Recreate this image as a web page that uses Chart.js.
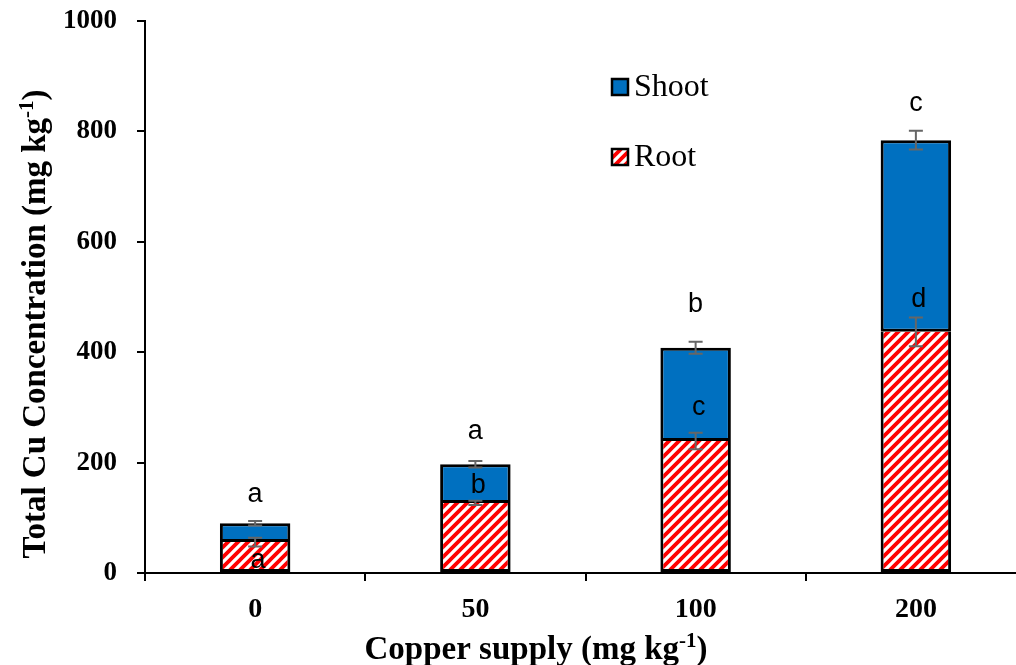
<!DOCTYPE html>
<html>
<head>
<meta charset="utf-8">
<script src="https://cdn.jsdelivr.net/npm/chart.js@4.4.1/dist/chart.umd.min.js"></script>
<style>
  html, body { margin:0; padding:0; background:#fff; overflow:hidden; }
  #wrap { width:1016px; height:665px; overflow:hidden; }
</style>
</head>
<body>
<div id="wrap"><canvas id="chart" width="1040" height="665"></canvas></div>
<script>
// values
const categories = ['0', '50', '100', '200'];
const rootValues = [56, 127, 239, 437];
const shootValues = [34, 70, 169, 347];
const rootErr = [8, 4, 15, 26];
const shootErr = [4, 6, 11, 17];
const rootLetters = ['a', 'b', 'c', 'd'];
const shootLetters = ['a', 'a', 'b', 'c'];
const rootLetterAt = [23, 158, 299, 495];
const shootLetterAt = [143, 257, 487, 850];
const yTicks = [0, 200, 400, 600, 800, 1000];

const SERIF = '"Liberation Serif", "Times New Roman", serif';
const SANS = '"Liberation Sans", Arial, sans-serif';
const BLUE = '#0070C0';

function hatch(){
    const c = document.createElement('canvas');
    c.width = 10; c.height = 10;
    const g = c.getContext('2d');
    g.fillStyle = '#fff'; g.fillRect(0,0,10,10);
    g.strokeStyle = '#ff0000'; g.lineWidth = 3.8;
    g.beginPath();
    g.moveTo(-5,5); g.lineTo(5,-5);
    g.moveTo(0,10); g.lineTo(10,0);
    g.moveTo(5,15); g.lineTo(15,5);
    g.stroke();
    return g.createPattern(c, 'repeat');
}
const rootFill = hatch();

// error bars + letters
const marks = {
    id: 'marks',
    afterDatasetsDraw(chart){
        const {ctx, scales:{x, y}} = chart;
        ctx.save();
        ctx.strokeStyle = '#666'; ctx.lineWidth = 2;
        const bar = (cx, v, e) => {
            const t = y.getPixelForValue(v + e), b = y.getPixelForValue(v - e);
            ctx.beginPath();
            ctx.moveTo(cx, t); ctx.lineTo(cx, b);
            ctx.moveTo(cx-7, t); ctx.lineTo(cx+7, t);
            ctx.moveTo(cx-7, b); ctx.lineTo(cx+7, b);
            ctx.stroke();
        };
        categories.forEach((c, i) => {
            const cx = x.getPixelForValue(i);
            bar(cx, rootValues[i], rootErr[i]);
            bar(cx, rootValues[i] + shootValues[i], shootErr[i]);
        });
        ctx.fillStyle = '#000';
        ctx.font = '27px ' + SANS;
        ctx.textAlign = 'center'; ctx.textBaseline = 'middle';
        categories.forEach((c, i) => {
            const cx = x.getPixelForValue(i);
            ctx.fillText(rootLetters[i], cx + 3, y.getPixelForValue(rootLetterAt[i]));
            ctx.fillText(shootLetters[i], cx, y.getPixelForValue(shootLetterAt[i]));
        });
        ctx.restore();
    }
};

// legend + axis titles with superscripts
const extras = {
    id: 'extras',
    afterDraw(chart){
        const ctx = chart.ctx;
        ctx.save();
        // legend
        const items = [{label:'Shoot', fill:BLUE, y:87}, {label:'Root', fill:rootFill, y:157}];
        items.forEach(it => {
            ctx.fillStyle = it.fill;
            ctx.fillRect(612, it.y - 8, 16, 16);
            ctx.strokeStyle = '#000'; ctx.lineWidth = 2.5;
            ctx.strokeRect(612, it.y - 8, 16, 16);
            ctx.fillStyle = '#000';
            ctx.font = '32px ' + SERIF;
            ctx.textAlign = 'left'; ctx.textBaseline = 'middle';
            ctx.fillText(it.label, 634, it.y + 1);
        });
        // title with superscript, centred at (cx, cy)
        const title = (main, sup, tail, cx, cy, rot) => {
            ctx.save();
            ctx.translate(cx, cy);
            if (rot) ctx.rotate(-Math.PI/2);
            const f = 'bold 33px ' + SERIF, fs = 'bold 21px ' + SERIF;
            ctx.font = f; const w1 = ctx.measureText(main).width, w3 = ctx.measureText(tail).width;
            ctx.font = fs; const w2 = ctx.measureText(sup).width;
            let sx = -(w1 + w2 + w3) / 2;
            ctx.fillStyle = '#000'; ctx.textAlign = 'left'; ctx.textBaseline = 'alphabetic';
            ctx.font = f; ctx.fillText(main, sx, 11); sx += w1;
            ctx.font = fs; ctx.fillText(sup, sx, -1); sx += w2;
            ctx.font = f; ctx.fillText(tail, sx, 11);
            ctx.restore();
        };
        title('Total Cu Concentration (mg kg', '-1', ')', 34, 324, true);
        title('Copper supply (mg kg', '-1', ')', 536, 648, false);
        ctx.restore();
    }
};

new Chart(document.getElementById('chart'), {
    type: 'bar',
    data: {
        labels: categories,
        datasets: [
            { label: 'Root', data: rootValues, backgroundColor: rootFill, borderColor: '#000', borderWidth: { top: 0, left: 3, right: 3, bottom: 3 }, borderSkipped: false },
            { label: 'Shoot', data: shootValues, backgroundColor: BLUE, borderColor: '#000', borderWidth: 3, borderSkipped: false }
        ]
    },
    options: {
        responsive: false,
        animation: false,
        devicePixelRatio: 1,
        layout: { padding: { top: 21, right: 14, left: 0, bottom: 0 } },
        plugins: { legend: { display: false }, tooltip: { enabled: false } },
        datasets: { bar: { categoryPercentage: 1, barPercentage: 0.32 } },
        scales: {
            x: {
                stacked: true,
                offset: true,
                afterFit: s => { s.height = 92; },
                border: { color: '#000', width: 2 },
                grid: { offset: true, drawOnChartArea: false, tickLength: 8, color: '#000', lineWidth: 2 },
                ticks: { color: '#000', padding: 12, font: { family: SERIF, size: 28, weight: 'bold' } }
            },
            y: {
                stacked: true,
                min: 0, max: 1000,
                afterBuildTicks: s => { s.ticks = yTicks.map(v => ({ value: v })); },
                afterFit: s => { s.width = 145; s.paddingTop = 0; s.paddingBottom = 0; },
                border: { color: '#000', width: 2 },
                grid: { drawOnChartArea: false, tickLength: 8, color: '#000', lineWidth: 2 },
                ticks: { color: '#000', padding: 20, callback: v => String(v), font: { family: SERIF, size: 27, weight: 'bold' } }
            }
        }
    },
    plugins: [marks, extras]
});
</script>
</body>
</html>
